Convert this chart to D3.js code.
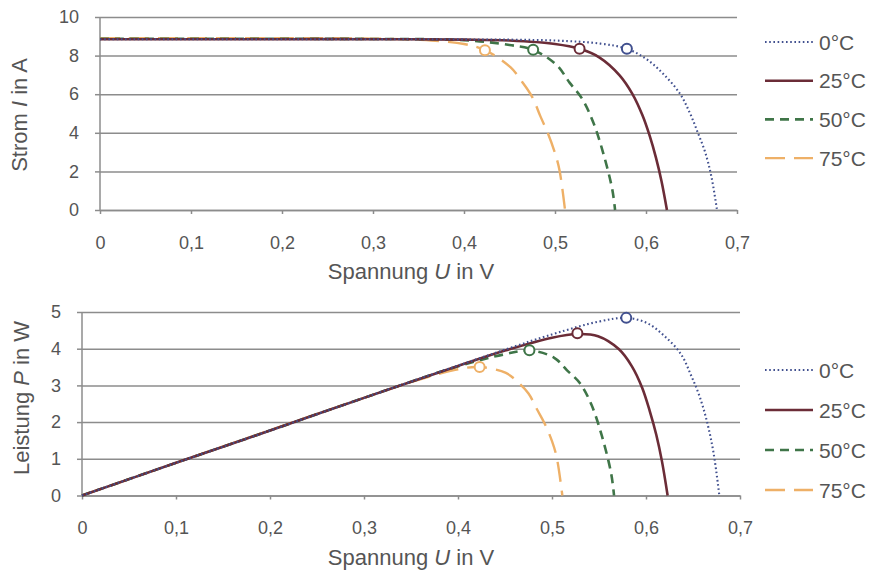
<!DOCTYPE html>
<html>
<head>
<meta charset="utf-8">
<script src="https://cdn.jsdelivr.net/npm/d3@7"></script>
<style>
  body { margin: 0; background: #fff; }
  svg { display: block; font-family: "Liberation Sans", Arial, sans-serif; }
  .axis text { fill: #555; font-size: 18px; }
  .axis path, .axis line { stroke: #8c8c8c; stroke-width: 1.5; }
  .grid line { stroke: #8c8c8c; stroke-width: 1.5; }
  .grid path { display: none; }
</style>
</head>
<body>
<script>
const temps = ["0°C", "25°C", "50°C", "75°C"];

// U-I and U-P curves
const u0 = [0, 0.1, 0.2, 0.3, 0.4, 0.5, 0.55, 0.579, 0.601, 0.619, 0.637, 0.648, 0.657, 0.665, 0.672, 0.678];
const i0 = [8.85, 8.85, 8.85, 8.85, 8.84, 8.78, 8.62, 8.35, 7.8, 7.05, 6.05, 5.05, 4.0, 3.0, 1.7, 0];
const p0 = [0, 0.89, 1.77, 2.66, 3.54, 4.39, 4.74, 4.84, 4.7, 4.36, 3.86, 3.27, 2.7, 2.0, 1.14, 0];

const u25 = [0, 0.1, 0.2, 0.3, 0.4, 0.45, 0.5, 0.527, 0.549, 0.571, 0.585, 0.596, 0.604, 0.611, 0.617, 0.623];
const i25 = [8.85, 8.85, 8.85, 8.85, 8.83, 8.78, 8.6, 8.35, 7.9, 6.98, 6.02, 4.92, 3.85, 2.7, 1.5, 0];
const p25 = [0, 0.89, 1.77, 2.66, 3.53, 3.95, 4.3, 4.4, 4.34, 3.99, 3.52, 2.93, 2.3, 1.65, 0.93, 0];

const u50 = [0, 0.1, 0.2, 0.3, 0.4, 0.45, 0.476, 0.502, 0.516, 0.53, 0.542, 0.553, 0.563, 0.566];
const i50 = [8.87, 8.87, 8.87, 8.86, 8.8, 8.55, 8.3, 7.5, 6.6, 5.75, 4.55, 2.95, 1.05, 0];
const p50 = [0, 0.89, 1.77, 2.66, 3.52, 3.85, 3.95, 3.76, 3.41, 3.05, 2.47, 1.63, 0.59, 0];

const u75 = [0, 0.1, 0.2, 0.3, 0.35, 0.4, 0.423, 0.451, 0.464, 0.475, 0.484, 0.492, 0.5, 0.505, 0.511];
const i75 = [8.9, 8.9, 8.9, 8.88, 8.82, 8.6, 8.28, 7.4, 6.63, 5.85, 4.85, 4.0, 2.95, 2.05, 0];
const p75 = [0, 0.89, 1.78, 2.66, 3.09, 3.44, 3.5, 3.34, 3.08, 2.78, 2.35, 1.97, 1.48, 1.04, 0];

// maximum power points
const mppU = [0.579, 0.527, 0.476, 0.423];
const mppI = [8.35, 8.35, 8.3, 8.28];
const mppP = [4.84, 4.42, 3.96, 3.5];

const uTicks = [0, 0.1, 0.2, 0.3, 0.4, 0.5, 0.6, 0.7];
const iTicks = [0, 2, 4, 6, 8, 10];
const pTicks = [0, 1, 2, 3, 4, 5];

const colors = ["#41508f", "#6b2c37", "#3f7548", "#eeb067"];
const dashes = ["1.6,2.6", null, "9,6", "20,9"];
const widths = [2.1, 2.6, 2.6, 2.4];

const series = [
  { u: u0, i: i0, p: p0 },
  { u: u25, i: i25, p: p25 },
  { u: u50, i: i50, p: p50 },
  { u: u75, i: i75, p: p75 }
];

const de = d3.formatLocale({ decimal: ",", thousands: ".", grouping: [3], currency: ["", "€"] });
const fmtU = (d) => (d === 0 ? "0" : de.format(".1f")(d));

const svg = d3.select("body").append("svg").attr("width", 875).attr("height", 575);

const drawPanel = (cfg) => {
  const x = d3.scaleLinear().domain([0, 0.7]).range([cfg.left, cfg.right]);
  const y = d3.scaleLinear().domain([0, cfg.ymax]).range([cfg.bottom, cfg.top]);
  const g = svg.append("g");

  g.append("g")
    .attr("class", "grid")
    .attr("transform", `translate(${cfg.left},0)`)
    .call(d3.axisLeft(y).tickValues(cfg.yTicks).tickSize(-(cfg.right - cfg.left)).tickFormat(""));

  g.append("g")
    .attr("class", "axis")
    .attr("transform", `translate(${cfg.left},0)`)
    .call(d3.axisLeft(y).tickValues(cfg.yTicks).tickFormat(d3.format("d")).tickSize(5).tickSizeOuter(0).tickPadding(16))
    .call((a) => a.select(".domain").attr("d", `M0,${cfg.bottom}V${cfg.top}`));

  g.append("g")
    .attr("class", "axis")
    .attr("transform", `translate(0,${cfg.bottom})`)
    .call(d3.axisBottom(x).tickValues(uTicks).tickFormat(fmtU).tickSize(4).tickSizeOuter(0).tickPadding(22));

  const line = d3.line()
    .x((d) => x(d[0]))
    .y((d) => y(d[1]))
    .curve(d3.curveCatmullRom.alpha(0.5));

  // draw hottest first so the 0°C curve lies on top
  d3.range(series.length).reverse().forEach((k) => {
    const s = series[k];
    const pts = s.u.map((u, j) => [u, s[cfg.key][j]]);
    g.append("path")
      .attr("d", line(pts))
      .attr("fill", "none")
      .attr("stroke", colors[k])
      .attr("stroke-width", widths[k])
      .attr("stroke-dasharray", dashes[k]);
  });

  g.selectAll("circle.mpp")
    .data(mppU)
    .join("circle")
    .attr("class", "mpp")
    .attr("cx", (d) => x(d))
    .attr("cy", (d, k) => y(cfg.mpp[k]))
    .attr("r", 5)
    .attr("fill", "#fff")
    .attr("stroke", (d, k) => colors[k])
    .attr("stroke-width", 2);

  // axis titles
  const xt = g.append("text")
    .attr("x", 411)
    .attr("y", cfg.bottom + 69)
    .attr("text-anchor", "middle")
    .attr("fill", "#555")
    .attr("font-size", 22);
  xt.append("tspan").text("Spannung ");
  xt.append("tspan").attr("font-style", "italic").text("U");
  xt.append("tspan").text(" in V");

  const yt = g.append("text")
    .attr("transform", `translate(${cfg.ytX},${cfg.ytY}) rotate(-90)`)
    .attr("text-anchor", "middle")
    .attr("fill", "#555")
    .attr("font-size", 22);
  yt.append("tspan").text(cfg.yLabel[0]);
  yt.append("tspan").attr("font-style", "italic").text(cfg.yLabel[1]);
  yt.append("tspan").text(cfg.yLabel[2]);

  // legend
  const leg = g.append("g");
  temps.forEach((t, k) => {
    const ly = cfg.legY + k * cfg.legStep;
    leg.append("line")
      .attr("x1", 765).attr("x2", 813)
      .attr("y1", ly).attr("y2", ly)
      .attr("stroke", colors[k])
      .attr("stroke-width", widths[k])
      .attr("stroke-dasharray", dashes[k]);
    leg.append("text")
      .attr("x", 819)
      .attr("y", ly)
      .attr("dy", "0.36em")
      .attr("fill", "#555")
      .attr("font-size", 21)
      .text(t);
  });
};

drawPanel({
  key: "i", ymax: 10, yTicks: iTicks, mpp: mppI,
  left: 100, right: 737, top: 17, bottom: 210,
  yLabel: ["Strom ", "I", " in A"], ytX: 27, ytY: 115,
  legY: 42, legStep: 38.7
});

drawPanel({
  key: "p", ymax: 5, yTicks: pTicks, mpp: mppP,
  left: 82, right: 740, top: 312, bottom: 495.5,
  yLabel: ["Leistung ", "P", " in W"], ytX: 29, ytY: 398,
  legY: 370, legStep: 40
});
</script>
</body>
</html>
